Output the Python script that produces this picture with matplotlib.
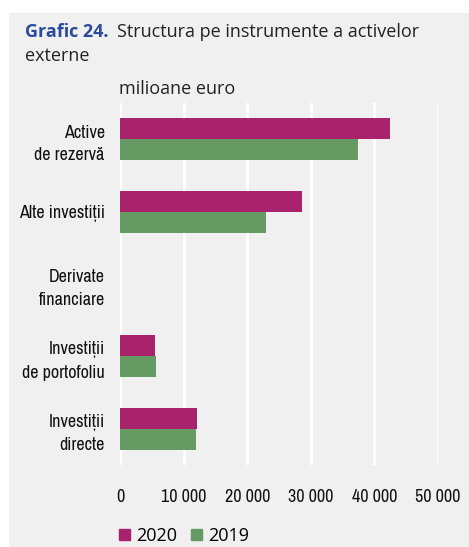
import numpy as np
import matplotlib
matplotlib.use("Agg")
import matplotlib.pyplot as plt
import matplotlib.patches as mpatches
from matplotlib import font_manager

# ── Data (milioane euro) ──────────────────────────────────────────────────────
categories = ["Active\nde rezervă", "Alte investiții", "Derivate\nfinanciare",
              "Investiții\nde portofoliu", "Investiții\ndirecte"]
vals_2020 = [42450, 28600, 0, 5500, 12100]
vals_2019 = [37400, 23000, 0, 5650, 11900]
xticks = [0, 10000, 20000, 30000, 40000, 50000]
xtick_labels = ["0", "10 000", "20 000", "30 000", "40 000", "50 000"]

C2020 = "#a8236b"
C2019 = "#659a62"
BG = "#f0f0f0"
TITLE_FONT = ["Open Sans", "DejaVu Sans"]

# narrow font for axis labels, if one is installed
names = sorted({f.name for f in font_manager.fontManager.ttflist})
narrow = [n for n in names if "Narrow" in n or "Condensed" in n]
NARROW = [narrow[0], "DejaVu Sans"] if narrow else ["Liberation Sans", "DejaVu Sans"]
lab_size = 13 if narrow else 11

W, H = 469, 547
fig = plt.figure(figsize=(W / 100, H / 100), dpi=100)
fig.patch.set_facecolor("white")
fig.patches.append(mpatches.Rectangle((9 / W, 0), 1 - 9 / W, 1 - 13 / H,
                                      transform=fig.transFigure, facecolor=BG,
                                      edgecolor="none", zorder=-5))

ax = fig.add_axes([120 / W, 1 - 465 / H, (438 - 120) / W, (465 - 103) / H])
ax.set_facecolor(BG)

y = np.arange(len(categories))
h = 0.29
ax.barh(y - h / 2, vals_2020, height=h, color=C2020, label="2020", zorder=3)
ax.barh(y + h / 2, vals_2019, height=h, color=C2019, label="2019", zorder=3)

ax.set_ylim(len(categories) - 0.5, -0.5)
ax.set_xlim(0, 50000)
ax.set_yticks(y)
ax.set_yticklabels(categories, fontsize=lab_size, family=NARROW,
                   linespacing=1.5, color="#111111")
ax.set_xticks(xticks)
ax.set_xticklabels(xtick_labels, fontsize=lab_size, family=NARROW, color="#111111")
ax.tick_params(axis="y", length=0, pad=11)
ax.tick_params(axis="x", length=0, pad=17)
ax.grid(axis="x", color="white", linewidth=2, zorder=1)
for s in ax.spines.values():
    s.set_visible(False)

# title
fig.text(25 / W, 1 - 32 / H, "Grafic 24.", fontsize=13, fontweight="bold",
         color="#2a4b9b", family=TITLE_FONT, va="center")
fig.text(117 / W, 1 - 32 / H, "Structura pe instrumente a activelor",
         fontsize=13, color="#222222", family=TITLE_FONT, va="center")
fig.text(25 / W, 1 - 56 / H, "externe", fontsize=13, color="#222222",
         family=TITLE_FONT, va="center")
fig.text(119 / W, 1 - 89 / H, "milioane euro", fontsize=13, color="#222222",
         family=TITLE_FONT, va="center")

handles = [mpatches.Patch(color=C2020, label="2020"),
           mpatches.Patch(color=C2019, label="2019")]
fig.legend(handles=handles, loc="center left", bbox_to_anchor=(119 / W, 1 - 536 / H),
           ncol=2, frameon=False, prop={"family": TITLE_FONT, "size": 13},
           borderpad=0, borderaxespad=0,
           handlelength=0.6, handleheight=0.6, handletextpad=0.35, columnspacing=0.75)

fig.savefig("out.png", dpi=100, facecolor=fig.get_facecolor())
